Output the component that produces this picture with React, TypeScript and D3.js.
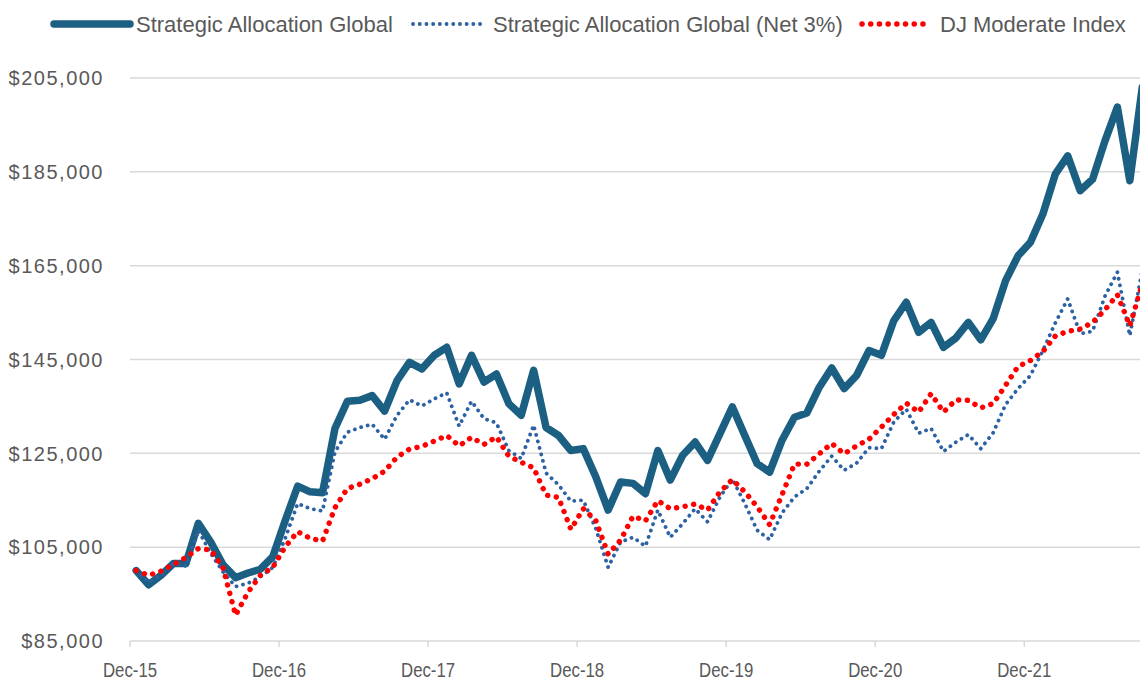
import * as d3 from 'd3';

// Monthly categories, Dec-15 through Sep-22
const monthKeys: string[] = d3.timeMonth
    .range(new Date(2015, 11, 1), new Date(2022, 9, 1))
    .map(d3.timeFormat('%b-%y'));

const tickLabels = ['Dec-15', 'Dec-16', 'Dec-17', 'Dec-18', 'Dec-19', 'Dec-20', 'Dec-21'];
const yTicks = [85, 105, 125, 145, 165, 185, 205]; // $ thousands

// Growth of $100,000 ($ thousands)
const strategic = [
    100, 97, 99, 101.5, 101.5, 110.1, 106.1, 101.2, 98.5, 99.5, 100.3, 103,
    110.7, 118, 116.8, 116.6, 130.3, 136.1, 136.3, 137.3, 134, 140.5, 144.4, 143,
    145.9, 147.6, 139.8, 145.9, 140.2, 141.9, 135.6, 133.1, 142.7, 130.5, 128.8, 125.6,
    126, 120, 112.9, 118.9, 118.6, 116.4, 125.6, 119.3, 124.6, 127.4, 123.5, 129.2,
    134.9, 128.8, 122.8, 121, 127.8, 132.7, 133.6, 139.1, 143.2, 138.8, 141.6, 146.9,
    145.9, 153.3, 157.2, 150.8, 152.9, 147.6, 149.6, 152.9, 149.2, 153.7, 161.8, 167.1,
    170, 176, 184.5, 188.4, 181, 183.4, 191.6, 198.8, 183.1, 203,
];

const strategicNet = [
    100, 97.5, 99, 101.5, 101, 108.6, 103.7, 99.7, 96.6, 97.3, 98.7, 100.7,
    106.9, 114.3, 113.2, 112.7, 125.3, 129.5, 130.5, 131.2, 128, 133.1, 136.4, 135.1,
    136.6, 137.9, 130.8, 136.1, 132.4, 131.5, 125.6, 123.9, 131, 120.8, 118.3, 114.8,
    115, 109, 100.7, 106.1, 107.1, 105.2, 112.9, 107.1, 110, 113.2, 110.4, 115.7,
    119.5, 114.3, 108.6, 106.6, 112.3, 115.7, 117.5, 121.2, 124.4, 121.4, 122.9, 126.2,
    126, 131.7, 134.4, 129.3, 130.3, 125.4, 127.4, 129, 126, 129.4, 135.4, 138.8,
    141.6, 146.9, 152.8, 157.9, 150.5, 151, 158.5, 163.6, 150.1, 164,
];

const djModerate = [
    100, 99, 99.9, 101.3, 102.8, 104.7, 104.4, 100.5, 90.5, 95.4, 99, 100.7,
    105.1, 108.3, 106.9, 106.3, 113.4, 117.5, 118.4, 119.6, 121.2, 124.2, 125.9, 126.5,
    127.6, 128.8, 126.6, 128.4, 126.9, 128.5, 124.4, 123.1, 121.9, 116.1, 115.6, 108.8,
    113.2, 110.7, 103.5, 106.5, 111.6, 110.6, 114.9, 113.2, 113.6, 114.2, 112.9, 116.8,
    119.4, 116.8, 113.6, 109.8, 116.2, 122.7, 122.7, 124.9, 127.1, 124.9, 126.6, 128,
    130.6, 133.3, 135.7, 133.8, 137.7, 133.8, 136.4, 136.3, 134.7, 135.6, 139.5, 143.5,
    144.8, 146.7, 150, 151, 151.5, 152.9, 155.6, 158.8, 152.2, 161,
];

const WIDTH = 1140;
const HEIGHT = 683;
const TEXT = '#595959';
const GRID = '#d9d9d9';

const series = [
    { name: 'Strategic Allocation Global', values: strategic, color: '#1b5f82', width: 7.5, dash: null },
    { name: 'Strategic Allocation Global (Net 3%)', values: strategicNet, color: '#2c62a4', width: 3.8, dash: '0.1 6.6' },
    { name: 'DJ Moderate Index', values: djModerate, color: '#ff0000', width: 5.4, dash: '0.1 8.6' },
];

// legend item positions (sample start, sample end, text start)
const legendPos = [
    [54, 130, 136],
    [413, 484, 493],
    [862, 931, 940],
];

export default function App() {
    const x = d3.scaleBand<string>()
        .domain(monthKeys)
        .range([130, 130 + monthKeys.length * 12.42]);
    const y = d3.scaleLinear().domain([85, 205]).range([641, 78]);

    const line = d3.line<number>()
        .x((_, i) => (x(monthKeys[i]) ?? 0) + x.bandwidth() / 2)
        .y(d => y(d));

    const fmt = (v: number) => d3.format('$,')(v * 1000);

    return (
        <svg width={WIDTH} height={HEIGHT} style={{ position: 'absolute', left: 0, top: 0, background: '#fff' }}>
            {/* gridlines */}
            {yTicks.map(t => (
                <line key={t} x1={130} x2={WIDTH} y1={y(t)} y2={y(t)} stroke={GRID} strokeWidth={1.5} />
            ))}
            {/* y labels */}
            <g fontFamily="'Liberation Sans', Arial, sans-serif" fontSize={20} fill={TEXT} textAnchor="end" letterSpacing={1.5}>
                {yTicks.map(t => (
                    <text key={t} x={104} y={y(t)} dy="0.36em">{fmt(t)}</text>
                ))}
            </g>
            {/* x axis ticks & labels */}
            {tickLabels.map(l => (
                <g key={l} transform={`translate(${x(l)},0)`}>
                    <line y1={641} y2={647} stroke={GRID} strokeWidth={1.5} />
                    {/* condensed look like the original axis font */}
                    <text transform="translate(0,677) scale(0.8,1)" textAnchor="middle"
                        fontFamily="'Liberation Sans', Arial, sans-serif" fontSize={21} fill={TEXT}>{l}</text>
                </g>
            ))}
            {/* series */}
            {series.map(s => (
                <path key={s.name} d={line(s.values) ?? ''} fill="none" stroke={s.color} strokeWidth={s.width}
                    strokeLinejoin="round" strokeLinecap="round" strokeDasharray={s.dash ?? undefined} />
            ))}
            {/* legend */}
            <g fontFamily="'Liberation Sans', Arial, sans-serif" fontSize={22} fill={TEXT}>
                {series.map((s, i) => (
                    <g key={s.name}>
                        <line x1={legendPos[i][0]} x2={legendPos[i][1]} y1={24} y2={24} stroke={s.color}
                            strokeWidth={s.width} strokeLinecap="round" strokeDasharray={s.dash ?? undefined} />
                        <text x={legendPos[i][2]} y={32}>{s.name}</text>
                    </g>
                ))}
            </g>
        </svg>
    );
}
